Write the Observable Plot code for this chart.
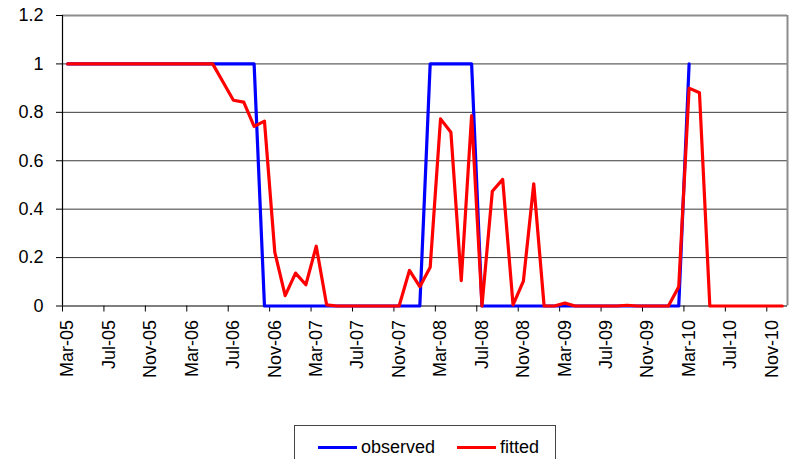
<!DOCTYPE html>
<html>
<head>
<meta charset="utf-8">
<script src="https://cdn.jsdelivr.net/npm/d3@7"></script>
<script src="https://cdn.jsdelivr.net/npm/@observablehq/plot@0.6"></script>
<style>
  html, body { margin: 0; padding: 0; background: #fff; }
  #wrap { position: relative; width: 795px; height: 459px; overflow: hidden; font-family: "Liberation Sans", Arial, sans-serif; }
  #legend { position: absolute; left: 294px; top: 425px; width: 262px; height: 50px; border: 1px solid #444; box-sizing: border-box; background: #fff; }
  .item { position: absolute; top: 11px; display: flex; align-items: center; font-size: 18px; color: #000; }
  .sw { width: 39px; height: 3px; margin-right: 4px; }
</style>
</head>
<body>
<div id="wrap">
  <div id="chart"></div>
  <div id="legend">
    <div class="item" style="left:23px"><span class="sw" style="background:#0000ff"></span>observed</div>
    <div class="item" style="left:162px"><span class="sw" style="background:#ff0000"></span>fitted</div>
  </div>
</div>
<script>
// Monthly series, first month = Mar-05
const tickLabels = ["Mar-05","Jul-05","Nov-05","Mar-06","Jul-06","Nov-06","Mar-07","Jul-07","Nov-07",
  "Mar-08","Jul-08","Nov-08","Mar-09","Jul-09","Nov-09","Mar-10","Jul-10","Nov-10"];
const yTicks = [0, 0.2, 0.4, 0.6, 0.8, 1, 1.2];

const observed = [
  1,1,1,1,1,1,1,1,1,1,1,1,1,1,1,1,1,1,1,
  0,0,0,0,0,0,0,0,0,0,0,0,0,0,0,0,
  1,1,1,1,1,
  0,0,0,0,0,0,0,0,0,0,0,0,0,0,0,0,0,0,0,0,
  1
];
const fitted = [
  1,1,1,1,1,1,1,1,1,1,1,1,1,1,1,
  0.925,0.85,0.842,0.742,0.764,
  0.222,0.043,0.136,0.088,0.247,0.005,
  0,0,0,0,0,0,0,
  0.147,0.08,0.16,0.773,0.718,0.105,0.787,
  0,0.474,0.523,0.005,0.103,0.505,
  0,0,0.012,0,0,0,0,0,0.003,0,0,0,0,
  0.08,0.9,0.881,
  0,0,0,0,0,0,0,0
];

const nMonths = 70;
const obsData = observed.map((v, i) => ({m: i + 0.5, v}));
const fitData = fitted.map((v, i) => ({m: i + 0.5, v}));
const tickPos = tickLabels.map((_, k) => k * 4);
const labelPos = tickLabels.map((_, k) => k * 4 + 0.5);

const chart = Plot.plot({
  width: 795,
  height: 400,
  marginLeft: 62,
  marginRight: 8,
  marginTop: 15,
  marginBottom: 94.5,
  style: { fontFamily: "'Liberation Sans', Arial, sans-serif", background: "#fff", color: "#000" },
  x: { domain: [0, nMonths] },
  y: { domain: [0, 1.2] },
  marks: [
    Plot.gridY(yTicks.filter(t => t > 0 && t < 1.2), { stroke: "#3a3a3a", strokeOpacity: 1, strokeWidth: 1 }),
    Plot.ruleY([1.2], { stroke: "#8c8c8c", strokeWidth: 2 }),
    Plot.ruleX([nMonths], { stroke: "#8c8c8c", strokeWidth: 2 }),
    Plot.axisY({ ticks: yTicks, tickSize: 6, tickPadding: 13, fontSize: 18, label: null,
      tickFormat: d => String(Math.round(d * 10) / 10) }),
    Plot.axisX({ ticks: tickPos, tickSize: 6, tickFormat: () => "", label: null }),
    Plot.axisX({ ticks: labelPos, tickSize: 0, tickPadding: 14, tickRotate: -90, fontSize: 18, label: null,
      tickFormat: d => tickLabels[Math.round((d - 0.5) / 4)] }),
    Plot.ruleX([0], { stroke: "#000", strokeWidth: 1.2 }),
    Plot.ruleY([0], { stroke: "#000", strokeWidth: 1.2 }),
    Plot.line(obsData, { x: "m", y: "v", stroke: "#0000ff", strokeWidth: 3.2 }),
    Plot.line(fitData, { x: "m", y: "v", stroke: "#ff0000", strokeWidth: 3.2 })
  ]
});
document.getElementById("chart").appendChild(chart);
</script>
</body>
</html>
